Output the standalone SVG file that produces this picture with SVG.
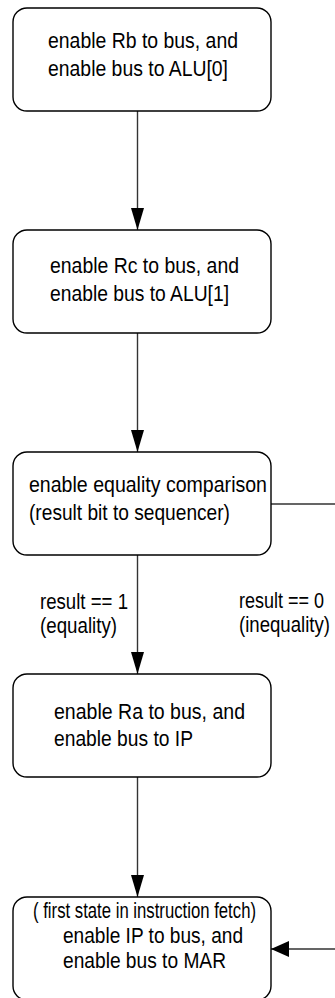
<svg xmlns="http://www.w3.org/2000/svg" width="335" height="998" viewBox="0 0 335 998">
<style>
.box{fill:#fff;stroke:#000;stroke-width:1.4}
.t{font-family:"Liberation Sans Narrow","Liberation Sans",Arial,sans-serif;font-size:22.5px;fill:#000}
.c{fill:none;stroke:#333;stroke-width:1.4}
</style>
<defs>
<marker id="av" markerUnits="userSpaceOnUse" markerWidth="22" markerHeight="13" refX="22" refY="6.5" orient="auto"><path d="M0,0 L22,6.5 L0,13 Z" fill="#000"/></marker>
<marker id="ah" markerUnits="userSpaceOnUse" markerWidth="18" markerHeight="16" refX="18" refY="8" orient="auto"><path d="M0,0 L18,8 L0,16 Z" fill="#000"/></marker>
</defs>
<rect width="335" height="998" fill="#fff"/>
<g id="connectors">
<line class="c" x1="137.5" y1="111" x2="137.5" y2="230" marker-end="url(#av)"/>
<line class="c" x1="137.5" y1="333" x2="137.5" y2="452" marker-end="url(#av)"/>
<line class="c" x1="137.5" y1="555" x2="137.5" y2="674" marker-end="url(#av)"/>
<line class="c" x1="137.5" y1="777" x2="137.5" y2="897" marker-end="url(#av)"/>
<path class="c" d="M271,504 H345 V949 H271" marker-end="url(#ah)"/>
<text class="t" x="40" y="609" textLength="88" lengthAdjust="spacingAndGlyphs">result == 1</text>
<text class="t" x="40" y="633" textLength="77" lengthAdjust="spacingAndGlyphs">(equality)</text>
<text class="t" x="239" y="608" textLength="85" lengthAdjust="spacingAndGlyphs">result == 0</text>
<text class="t" x="239" y="632" textLength="91" lengthAdjust="spacingAndGlyphs">(inequality)</text>
</g>
<g id="n1">
<rect class="box" x="13" y="8" width="258" height="103" rx="14"/>
<text class="t" x="48" y="48" textLength="190" lengthAdjust="spacingAndGlyphs">enable Rb to bus, and</text>
<text class="t" x="48" y="76" textLength="180" lengthAdjust="spacingAndGlyphs">enable bus to ALU[0]</text>
</g>
<g id="n2">
<rect class="box" x="13" y="230" width="258" height="103" rx="14"/>
<text class="t" x="50" y="273" textLength="189" lengthAdjust="spacingAndGlyphs">enable Rc to bus, and</text>
<text class="t" x="50" y="301" textLength="179" lengthAdjust="spacingAndGlyphs">enable bus to ALU[1]</text>
</g>
<g id="n3">
<rect class="box" x="13" y="452" width="258" height="103" rx="14"/>
<text class="t" x="29" y="492" textLength="238" lengthAdjust="spacingAndGlyphs">enable equality comparison</text>
<text class="t" x="29" y="520" textLength="201" lengthAdjust="spacingAndGlyphs">(result bit to sequencer)</text>
</g>
<g id="n4">
<rect class="box" x="13" y="674" width="258" height="103" rx="14"/>
<text class="t" x="54" y="719" textLength="191" lengthAdjust="spacingAndGlyphs">enable Ra to bus, and</text>
<text class="t" x="54" y="746" textLength="139" lengthAdjust="spacingAndGlyphs">enable bus to IP</text>
</g>
<g id="n5">
<rect class="box" x="13" y="897" width="258" height="103" rx="14"/>
<text class="t" x="33" y="918" textLength="223" lengthAdjust="spacingAndGlyphs">( first state in instruction fetch)</text>
<text class="t" x="63" y="943" textLength="180" lengthAdjust="spacingAndGlyphs">enable IP to bus, and</text>
<text class="t" x="63" y="968" textLength="163" lengthAdjust="spacingAndGlyphs">enable bus to MAR</text>
</g>
</svg>
